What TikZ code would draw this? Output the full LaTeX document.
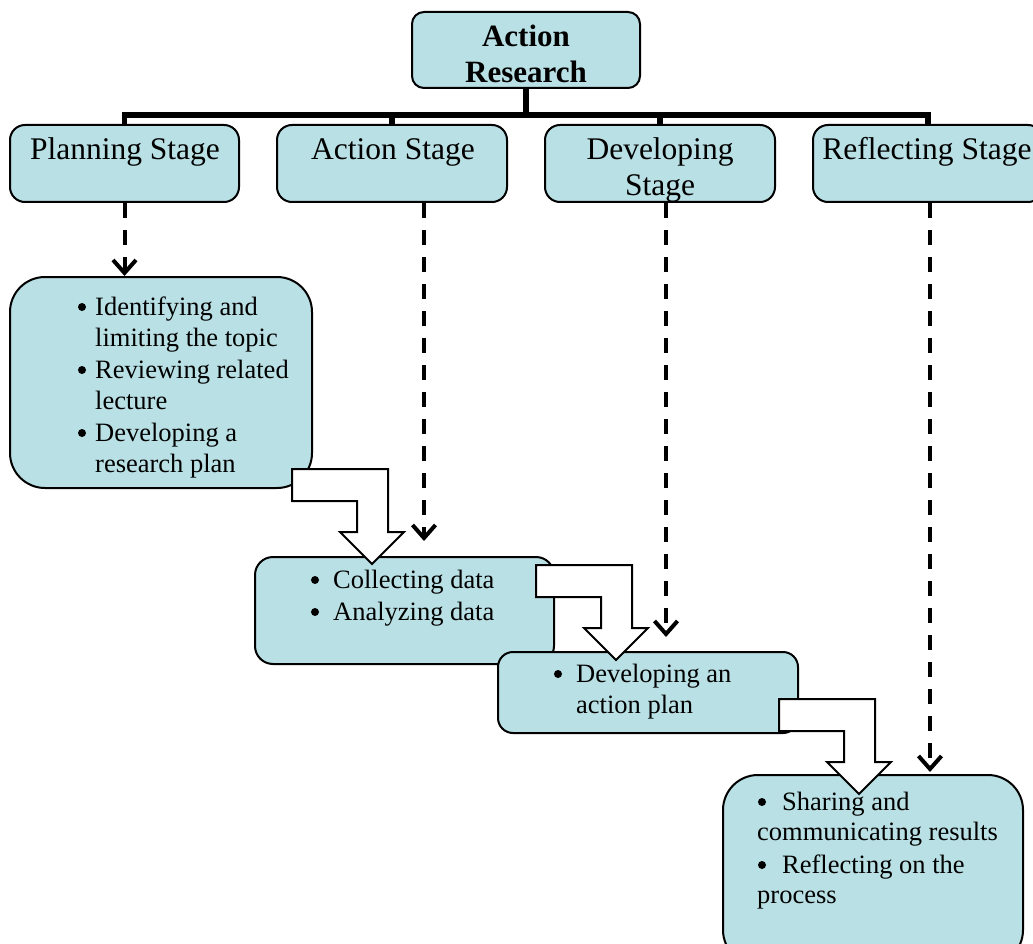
\documentclass[tikz,border=0pt]{standalone}
\usepackage{fontspec}
\setmainfont{Liberation Serif}
\usetikzlibrary{arrows.meta,calc}
\definecolor{boxfill}{RGB}{185,224,228}
\tikzset{
  box/.style={draw=black, line width=2pt, fill=boxfill, rectangle, inner sep=0pt},
  ttl/.style={font=\fontsize{31}{36}\selectfont\bfseries, anchor=base, inner sep=0pt},
  stg/.style={font=\fontsize{31.5}{36}\selectfont, anchor=base, inner sep=0pt},
  itm/.style={font=\fontsize{26.5}{31}\selectfont, anchor=base west, inner sep=0pt},
  bul/.style={circle, fill=black, inner sep=0pt, minimum size=8pt},
  bus/.style={line width=5.5pt, line join=miter},
  dasharrow/.style={line width=4pt, dash pattern=on 15pt off 12pt, -{Straight Barb[length=13pt,width=23pt]}},
  block/.style={draw=black, line width=2pt, fill=white, line join=miter},
}
\newcommand\blockarrow[2]{%
  \draw[block] (#1,#2) -- ++(96,0) -- ++(0,63) -- ++(16,0) -- ++(-32,32)
    -- ++(-32,-32) -- ++(17,0) -- ++(0,-31) -- ++(-65,0) -- cycle;}
\begin{document}
\begin{tikzpicture}[x=1pt,y=-1pt]
\useasboundingbox (0,0) rectangle (1033,944);
% top
\node[box, rounded corners=12pt, minimum width=228pt, minimum height=76pt] (top) at (526,50) {};
\node[ttl] (t1) at (526,46.5) {Action};
\node[ttl] (t2) at (526,83) {Research};
% stages
\node[box, rounded corners=15pt, minimum width=229pt, minimum height=77pt] (plan) at (124.5,163.5) {};
\node[box, rounded corners=15pt, minimum width=230pt, minimum height=77pt] (act) at (392,163.5) {};
\node[box, rounded corners=15pt, minimum width=230pt, minimum height=77pt] (dev) at (660,163.5) {};
\node[box, rounded corners=15pt, minimum width=230pt, minimum height=77pt] (refl) at (928,163.5) {};
\node[stg] (planL) at (125,160) {Planning Stage};
\node[stg] (actL) at (393,160) {Action Stage};
\node[stg] (devL1) at (660,160) {Developing};
\node[stg] (devL2) at (660,196) {Stage};
\node[stg] (reflL) at (927,160) {Reflecting Stage};
% bus
\coordinate (bus) at (526,115);
\draw[bus] (top.south) -- (top.south |- bus);
\draw[bus] (plan.north) -- (plan.north |- bus) -- (refl.north |- bus) -- (refl.north);
\draw[bus] (act.north |- bus) -- (act.north);
\draw[bus] (dev.north |- bus) -- (dev.north);
% dashed arrows
\coordinate (pEnd) at (124.5,276);
\coordinate (aEnd) at (424,541);
\coordinate (dEnd) at (666,637);
\coordinate (rEnd) at (930,772);
\draw[dasharrow] (plan.south) -- (pEnd);
\draw[dasharrow] (act.south -| aEnd) -- (aEnd);
\draw[dasharrow] (dev.south -| dEnd) -- (dEnd);
\draw[dasharrow] (refl.south -| rEnd) -- (rEnd);
% content boxes
\node[box, rounded corners=35pt, minimum width=302pt, minimum height=211pt] (pbox) at (161,382.5) {};
\node[box, rounded corners=18pt, minimum width=299pt, minimum height=107pt] (abox) at (404.5,610.5) {};
\node[box, rounded corners=15pt, minimum width=300pt, minimum height=81pt] (dbox) at (648,692.5) {};
\node[box, rounded corners=35pt, minimum width=300pt, minimum height=190pt] (rbox) at (873,870) {};
% planning items
\node[bul] (pb1) at (82,307) {};
\node[itm] (p1) at (95,315) {Identifying and};
\node[itm] (p2) at (95,346) {limiting the topic};
\node[bul] (pb2) at (82,370) {};
\node[itm] (p3) at (95,378) {Reviewing related};
\node[itm] (p4) at (95,409) {lecture};
\node[bul] (pb3) at (82,433) {};
\node[itm] (p5) at (95,441) {Developing a};
\node[itm] (p6) at (95,472) {research plan};
% action items
\node[bul] (ab1) at (315,580) {};
\node[itm] (a1) at (333,588) {Collecting data};
\node[bul] (ab2) at (315,612) {};
\node[itm] (a2) at (333,620) {Analyzing data};
% developing items
\node[bul] (db1) at (558,674) {};
\node[itm] (d1) at (576,682) {Developing an};
\node[itm] (d2) at (576,713) {action plan};
% reflecting items
\node[bul] (rb1) at (762,802) {};
\node[itm] (r1) at (782,810) {Sharing and};
\node[itm] (r2) at (757,840) {communicating results};
\node[bul] (rb2) at (762,865) {};
\node[itm] (r3) at (782,873) {Reflecting on the};
\node[itm] (r4) at (757,903) {process};
% block arrows
\blockarrow{292}{469}
\blockarrow{536}{565}
\blockarrow{779}{699}
\end{tikzpicture}
\end{document}
